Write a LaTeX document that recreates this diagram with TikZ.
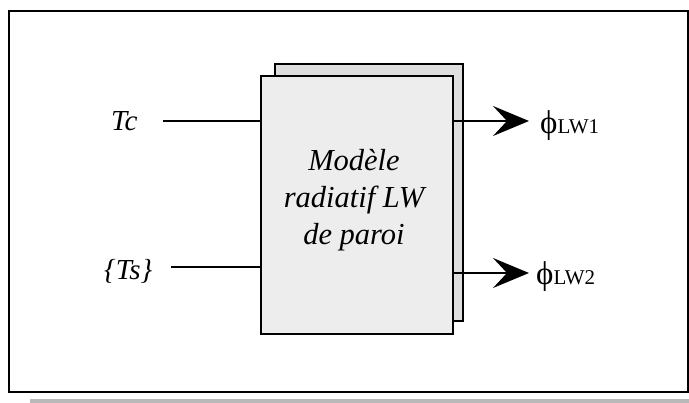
\documentclass[tikz,border=0pt]{standalone}
\usepackage{fontspec}
\setmainfont{Liberation Serif}
\usetikzlibrary{arrows.meta}
\begin{document}
\begin{tikzpicture}[x=1pt,y=-1pt,
  boxline/.style={draw=black,line width=2pt},
  conn/.style={line width=1.6pt},
  bigarrow/.style={conn,-{Stealth[length=36pt,width=30pt,inset=14pt]}},
  lbl/.style={inner sep=0pt,font=\fontsize{29}{34}\selectfont\itshape},
  outlbl/.style={inner sep=0pt,anchor=base west,font=\fontsize{33}{36}\selectfont}
]
\useasboundingbox (0,0) rectangle (689,403);
% shadow strip and frame
\fill[gray!55] (30,399) rectangle (689,403);
\draw[line width=2pt] (9,11) rectangle (688,392);
% back and front boxes
\node[boxline,fill=black!13,minimum width=188pt,minimum height=257pt,inner sep=0pt] (back) at (369,192.5) {};
\node[boxline,fill=black!7,minimum width=192pt,minimum height=258pt,inner sep=0pt] (front) at (357,205) {};
\node[inner sep=0pt,align=center,font=\fontsize{30.5}{37}\selectfont\itshape] (title) at (354,200) {Modèle\\radiatif LW\\de paroi};
% inputs
\node[lbl,anchor=base west] (tc) at (111,131) {Tc};
\node[lbl,anchor=base west] (ts) at (104,280) {\{Ts\}};
\coordinate (tcs) at (163,121);
\coordinate (tss) at (171,267);
\draw[conn] (tcs) -- (tcs -| front.west);
\draw[conn] (tss) -- (tss -| front.west);
% outputs
\coordinate (o1) at (453,121);
\coordinate (o2) at (453,273);
\coordinate (t1) at (529,121);
\coordinate (t2) at (529,273);
\draw[bigarrow] (o1) -- (t1);
\draw[bigarrow] (o2) -- (t2);
\node[outlbl] (phi1) at (540,134) {ϕ{\fontsize{21}{21}\selectfont LW1}};
\node[outlbl] (phi2) at (536,285) {ϕ{\fontsize{21}{21}\selectfont LW2}};
\end{tikzpicture}
\end{document}
